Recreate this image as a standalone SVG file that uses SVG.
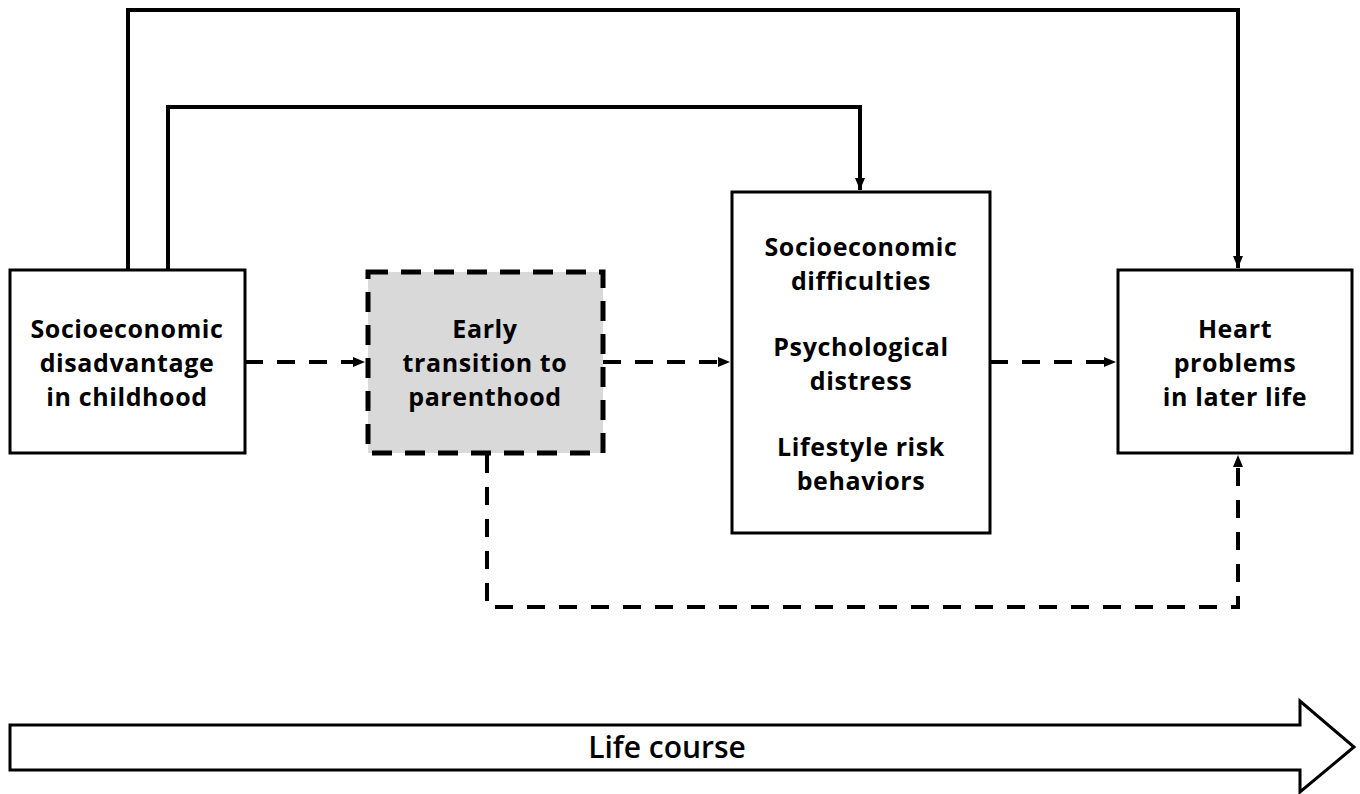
<svg xmlns="http://www.w3.org/2000/svg" width="1360" height="794" viewBox="0 0 1360 794">
<style>
.box{fill:#fff;stroke:#000;stroke-width:3}
.gbox{fill:#d9d9d9;stroke:#000;stroke-width:5;stroke-dasharray:20 13}
.solid{fill:none;stroke:#000;stroke-width:4}
.dash{fill:none;stroke:#000;stroke-width:4;stroke-dasharray:18 14}
.t{font-family:"Open Sans",Lato,sans-serif;font-weight:700;font-size:25px;letter-spacing:0.6px;fill:#000;text-anchor:middle}
</style>
<defs>
<marker id="ah" viewBox="0 0 12 12" refX="12" refY="6" markerWidth="12" markerHeight="12" markerUnits="userSpaceOnUse" orient="auto">
<path d="M0,1 L12,6 L0,11 Z" fill="#000"/>
</marker>
</defs>
<rect width="1360" height="794" fill="#fff"/>
<g id="connectors">
<path class="solid" d="M128,270 V10 H1238 V268" marker-end="url(#ah)"/>
<path class="solid" d="M168,270 V107 H860 V190" marker-end="url(#ah)"/>
<path class="dash" d="M245,362 H365" marker-end="url(#ah)"/>
<path class="dash" d="M603,362 H730" marker-end="url(#ah)"/>
<path class="dash" d="M990,362 H1116" marker-end="url(#ah)"/>
<path class="dash" d="M487,455 V607 H1238 V455" marker-end="url(#ah)"/>
</g>
<g id="node-childhood">
<rect class="box" x="10" y="270" width="235" height="183"/>
<text class="t" x="127" y="338">Socioeconomic</text>
<text class="t" x="127" y="372">disadvantage</text>
<text class="t" x="127" y="406">in childhood</text>
</g>
<g id="node-parenthood">
<rect class="gbox" x="368" y="272" width="235" height="181"/>
<text class="t" x="485" y="338">Early</text>
<text class="t" x="485" y="372">transition to</text>
<text class="t" x="485" y="406">parenthood</text>
</g>
<g id="node-mediators">
<rect class="box" x="732" y="192" width="258" height="341"/>
<text class="t" x="861" y="256">Socioeconomic</text>
<text class="t" x="861" y="290">difficulties</text>
<text class="t" x="861" y="356">Psychological</text>
<text class="t" x="861" y="390">distress</text>
<text class="t" x="861" y="456">Lifestyle risk</text>
<text class="t" x="861" y="490">behaviors</text>
</g>
<g id="node-heart">
<rect class="box" x="1118" y="270" width="234" height="183"/>
<text class="t" x="1235" y="338">Heart</text>
<text class="t" x="1235" y="372">problems</text>
<text class="t" x="1235" y="406">in later life</text>
</g>
<g id="life-course">
<path d="M10,725 H1300 V701 L1354,747 L1300,792 V770 H10 Z" fill="#fff" stroke="#000" stroke-width="3"/>
<text class="t" x="667" y="758" style="font-weight:600;font-size:30px;letter-spacing:0">Life course</text>
</g>
</svg>
